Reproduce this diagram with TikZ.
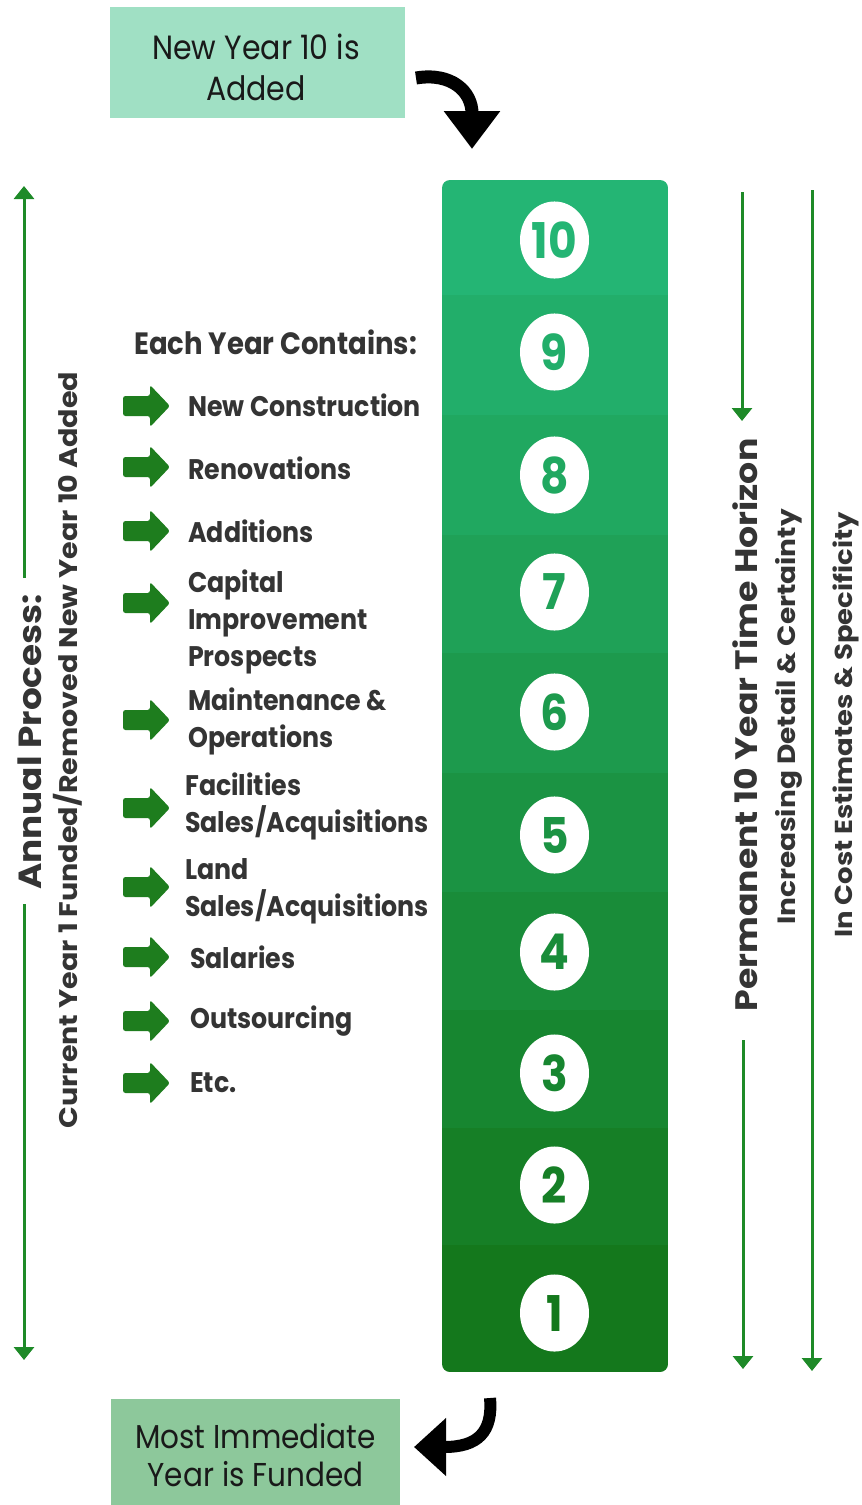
\documentclass[tikz,border=0pt]{standalone}
\usepackage{fontspec}
\setmainfont{Poppins}
\usetikzlibrary{arrows.meta,shapes.geometric}
\definecolor{bandtop}{RGB}{36,181,116}
\definecolor{bandbot}{RGB}{20,120,28}
\definecolor{linegreen}{RGB}{30,138,40}
\definecolor{arrowgreen}{RGB}{30,125,30}
\definecolor{topbox}{RGB}{160,224,196}
\definecolor{botbox}{RGB}{141,200,155}
\definecolor{txt}{RGB}{52,52,52}
\begin{document}
\begin{tikzpicture}[x=1pt,y=-1pt,
  vs/.style={yscale=1.12},
  gline/.style={draw=linegreen,line width=3pt},
  gtip/.style={-{Triangle[width=20pt,length=13pt]}},
  item/.style={vs,font=\bfseries\fontsize{25.3}{33}\selectfont,text=txt,align=left,anchor=west,inner sep=0pt},
  vlabel/.style={vs,rotate=90,text=txt,inner sep=0pt},
  yearnum/.style={vs,ellipse,fill=white,minimum width=69pt,minimum height=68.8pt,inner sep=0pt,font=\bfseries\fontsize{44}{44}\selectfont},
  garrow/.pic={\fill[arrowgreen,rounded corners=2.5pt] (-24,-10) -- (3,-10) -- (3,-21) -- (23,0) -- (3,21) -- (3,10) -- (-24,10) -- cycle;},
  bigtip/.style={-{Triangle[width=54pt,length=38pt]}}
]
\useasboundingbox[fill=white] (0,0) rectangle (862,1505);

% top box
\node[fill=topbox,minimum width=295pt,minimum height=111pt,inner sep=0pt] (newyear) at (257.5,62.5) {};
\node[vs,inner sep=0pt,align=center,text=black!90,font=\fontsize{30}{36}\selectfont] (newyeartext) at (256,67.5) {New Year 10 is\\Added};
% bottom box
\node[fill=botbox,minimum width=289pt,minimum height=106pt,inner sep=0pt] (funded) at (255.5,1452) {};
\node[vs,inner sep=0pt,align=center,text=black!90,font=\fontsize{29.5}{34}\selectfont] (fundedtext) at (255.5,1455) {Most Immediate\\Year is Funded};

% curved black arrows
\coordinate (ta1) at (416,78);
\coordinate (ta2) at (472,149);
\draw[black,line width=13pt,bigtip] (ta1) .. controls (452,72) and (472,92) .. (ta2);
\coordinate (ba1) at (490,1398);
\coordinate (ba2) at (414,1447);
\draw[black,line width=12pt,-{Triangle[width=56pt,length=32pt]}] (ba1) .. controls (493,1432) and (478,1447) .. (ba2);

% column of years
\begin{scope}
\clip[rounded corners=8pt] (442,180) rectangle (668,1372);
\foreach \i/\a/\b in {10/180/295, 9/295/415, 8/415/535, 7/535/653, 6/653/773, 5/773/892, 4/892/1010, 3/1010/1128, 2/1128/1245, 1/1245/1372}{
  \pgfmathsetmacro{\p}{(10-\i)*100/9}
  \fill[bandbot!\p!bandtop] (442,\a) rectangle (668,\b);
}
\end{scope}
\foreach \i/\yy in {10/240, 9/352, 8/475, 7/592, 6/712, 5/835, 4/952, 3/1073, 2/1185, 1/1313}{
  \pgfmathsetmacro{\p}{(10-\i)*100/9}
  \node[yearnum,text=bandbot!\p!bandtop] (y\i) at (554.5,\yy) {\i};
}

% heading and list
\node[vs,font=\bfseries\fontsize{27.5}{27.5}\selectfont,text=txt,anchor=west,inner sep=0pt] (each) at (134,342) {Each Year Contains:};
\foreach \n/\ay/\tx/\ty/\t in {
  a/406/188/405/{New Construction},
  b/467/188/468/{Renovations},
  c/531/188/531/{Additions},
  d/603/188/622/{Capital\\Improvement\\Prospects},
  e/720/188/721/{Maintenance \&\\Operations},
  f/808/185/806/{Facilities\\Sales/Acquisitions},
  g/887/185/891/{Land\\Sales/Acquisitions},
  h/957/190/957/{Salaries},
  i/1021/190/1021/{Outsourcing},
  j/1083/190/1083/{Etc.}}{
  \pic at (147,\ay) {garrow};
  \node[item] (item\n) at (\tx,\ty) {\t};
}

% left vertical labels and arrows
\node[vlabel,font=\bfseries\fontsize{32}{32}\selectfont] (annual) at (30,742) {Annual Process:};
\node[vlabel,font=\bfseries\fontsize{25.5}{25.5}\selectfont] (current) at (68,750) {Current Year 1 Funded/Removed New Year 10 Added};
\coordinate (ltop) at (24,186);
\coordinate (lg1) at (24,578);
\coordinate (lg2) at (24,904);
\coordinate (lbot) at (24,1360);
\draw[gline,gtip] (lg1) -- (ltop);
\draw[gline,gtip] (lg2) -- (lbot);

% right vertical labels and arrows
\node[vlabel,font=\bfseries\fontsize{31}{31}\selectfont] (perm) at (745,725) {Permanent 10 Year Time Horizon};
\node[vlabel,font=\bfseries\fontsize{25}{25}\selectfont] (incr) at (789,717) {Increasing Detail \& Certainty};
\node[vlabel,font=\bfseries\fontsize{24.5}{24.5}\selectfont] (cost) at (846,725) {In Cost Estimates \& Specificity};
\coordinate (r1a) at (742,192);
\coordinate (r1b) at (742,421);
\coordinate (r2a) at (743,1040);
\coordinate (r2b) at (743,1369);
\coordinate (r3a) at (812,190);
\coordinate (r3b) at (812,1371);
\draw[gline,gtip] (r1a) -- (r1b);
\draw[gline,gtip] (r2a) -- (r2b);
\draw[gline,gtip] (r3a) -- (r3b);
\end{tikzpicture}
\end{document}
